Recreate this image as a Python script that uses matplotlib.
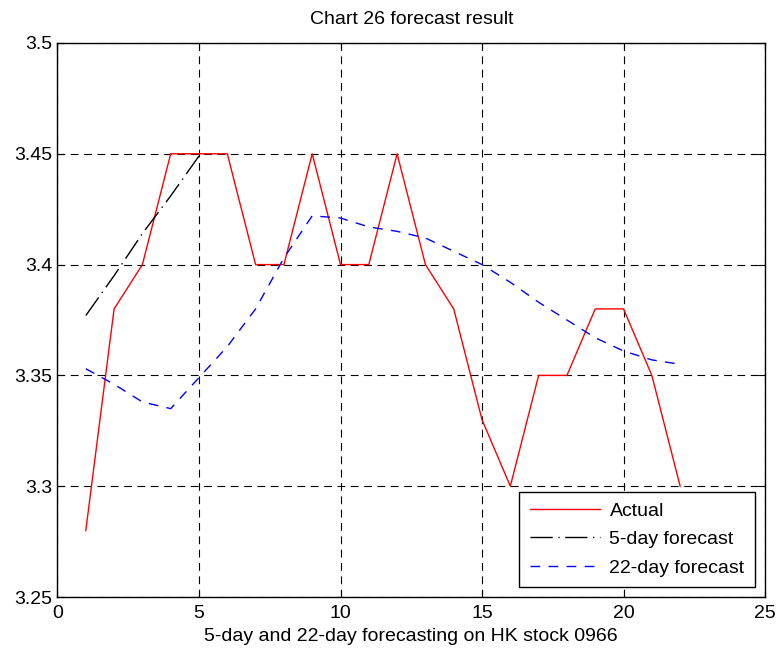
import matplotlib
matplotlib.use('Agg')
import matplotlib.pyplot as plt

plt.rcParams['font.family'] = ['Liberation Sans', 'DejaVu Sans']

# Data
days = list(range(1, 23))
actual = [3.28, 3.38, 3.40, 3.45, 3.45, 3.45, 3.40, 3.40, 3.45, 3.40, 3.40,
          3.45, 3.40, 3.38, 3.33, 3.30, 3.35, 3.35, 3.38, 3.38, 3.35, 3.30]

days_5 = [1, 2, 3, 4, 5]
forecast_5 = [3.377, 3.395, 3.414, 3.431, 3.449]

forecast_22 = [3.353, 3.346, 3.338, 3.335, 3.349, 3.363, 3.380, 3.403, 3.422,
               3.421, 3.417, 3.415, 3.412, 3.406, 3.400, 3.392, 3.383, 3.375,
               3.367, 3.361, 3.357, 3.355]

fig = plt.figure(figsize=(7.77, 6.57), dpi=100)
ax = fig.add_axes([0.074, 0.0913, 0.9106, 0.8433])

ax.plot(days, actual, color='red', linewidth=1, label='Actual')
ax.plot(days_5, forecast_5, color='black', linewidth=1, dashes=(16, 4, 1, 4),
        label='5-day forecast')
ax.plot(days, forecast_22, color='blue', linewidth=1, dashes=(7, 6),
        label='22-day forecast')

ax.set_xlim(0, 25)
ax.set_ylim(3.25, 3.5)
ax.set_xticks([0, 5, 10, 15, 20, 25])
ax.set_yticks([3.25, 3.3, 3.35, 3.4, 3.45, 3.5])
ax.set_yticklabels(['3.25', '3.3', '3.35', '3.4', '3.45', '3.5'])
ax.grid(True, color='black', linestyle=(0, (7, 5)), linewidth=0.8)
ax.tick_params(direction='in', top=True, right=True, labelsize=14, length=5)
ax.tick_params(axis='x', pad=6)
for s in ax.spines.values():
    s.set_linewidth(1)

ax.set_title('Chart 26 forecast result', fontsize=14, pad=14)
ax.set_xlabel('5-day and 22-day forecasting on HK stock 0966', fontsize=14, labelpad=4)

leg = ax.legend(loc='lower right', fontsize=14, fancybox=False, framealpha=1,
                edgecolor='black', borderaxespad=0.5, handlelength=3.6,
                handletextpad=0.5, labelspacing=0.55, borderpad=0.55)
leg.get_frame().set_linewidth(1)

fig.savefig('out.png', dpi=100)
